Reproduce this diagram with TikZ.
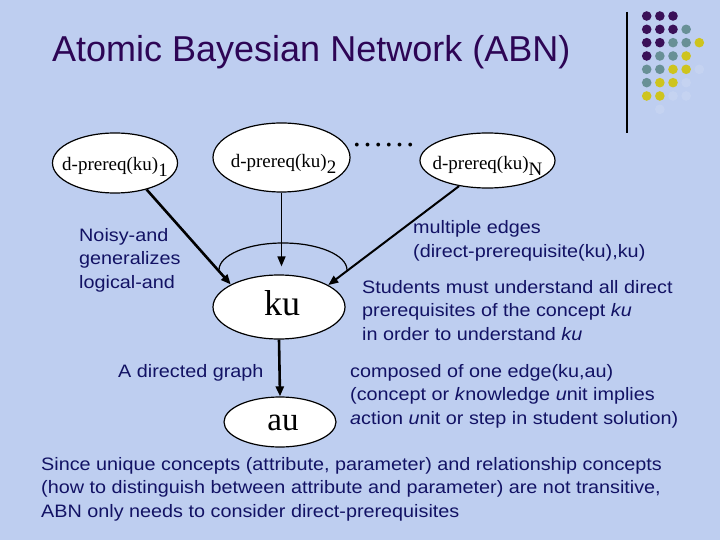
\documentclass[tikz,border=0pt]{standalone}
\usepackage{fontspec}
\setmainfont{Liberation Serif}
\setsansfont{Liberation Sans}
\newfontfamily\bodyf[FakeStretch=1.1]{Liberation Sans}
\newfontfamily\titlef{Liberation Sans}
\usetikzlibrary{shapes.geometric,arrows.meta}
\definecolor{bgblue}{RGB}{190,206,240}
\definecolor{txtnavy}{RGB}{18,18,100}
\definecolor{titlepurple}{RGB}{45,5,85}
\definecolor{dotP}{RGB}{58,16,88}
\definecolor{dotG}{RGB}{104,144,150}
\definecolor{dotY}{RGB}{206,196,30}
\newcommand\sbs[1]{\raisebox{-6pt}{#1}}
\begin{document}
\begin{tikzpicture}[x=1pt,y=-1pt,
  ell/.style={ellipse, draw=black, line width=1.2pt, fill=white, inner sep=0pt},
  lbl/.style={font=\fontsize{19}{22}\selectfont, inner sep=0pt, anchor=base},
  body/.style={font=\bodyf\fontsize{18}{23.5}\selectfont, text=txtnavy, align=left, inner sep=0pt, anchor=base west},
  arr/.style={-{Triangle[length=10pt,width=8pt]}, draw=black},
  dot/.style={circle, inner sep=0pt, minimum size=9.6pt}
]
\fill[bgblue] (0,0) rectangle (720,540);
\useasboundingbox (0,0) rectangle (720,540);

% title
\node[font=\titlef\fontsize{36}{40}\selectfont, text=titlepurple, inner sep=0pt, anchor=base west] (title) at (52,62) {Atomic Bayesian Network (ABN)};

% decoration
\coordinate (vt) at (627,12);
\coordinate (vb) at (627,133);
\draw[line width=1.3pt] (vt) -- (vb);
\foreach \r/\cols in {0/{P,P,P},1/{P,P,P,G},2/{P,P,G,G,Y},3/{P,G,G,Y},4/{G,G,Y,Y},5/{G,Y,Y},6/{Y,Y}}{
  \foreach \c [count=\i from 0] in \cols {
    \fill[dot\c] ({646.7+13.15*\i},{16+13.33*\r}) circle (4.8);
  }
}
\foreach \i/\r in {4/4,3/5,2/6,3/6,1/7}{
  \fill[white,opacity=0.12] ({646.7+13.15*\i},{16+13.33*\r}) circle (4.8);
}

% ellipses
\node[ell, minimum width=125pt, minimum height=60pt] (p1) at (115,163) {};
\node[ell, minimum width=137pt, minimum height=69pt] (p2) at (281.5,157.5) {};
\node[ell, minimum width=135pt, minimum height=55pt] (pN) at (487.5,160.5) {};
\node[ell, minimum width=132pt, minimum height=64pt] (ku) at (279,307) {};
\node[ell, minimum width=112pt, minimum height=50pt] (au) at (280,422) {};

\node[lbl] (p1t) at ([yshift=-7.5pt]p1.center) {d-prereq(ku)\sbs{1}};
\node[lbl] (p2t) at ([yshift=-10pt,xshift=2pt]p2.center) {d-prereq(ku)\sbs{2}};
\node[lbl] (pNt) at ([yshift=-9pt]pN.center) {d-prereq(ku)\sbs{N}};
\node[lbl, font=\fontsize{36}{40}\selectfont] (kut) at ([yshift=-8pt,xshift=3pt]ku.center) {ku};
\node[lbl, font=\fontsize{33}{36}\selectfont] (aut) at ([yshift=-8.7pt,xshift=3pt]au.center) {au};
\node[lbl, font=\fontsize{32}{36}\selectfont] (dots) at (383.5,147) {……};

% connectors
\draw[line width=1.2pt] (219,270) arc[start angle=180,end angle=360,x radius=64,y radius=27];
\draw[arr, line width=2.6pt] (p1.-40) -- (ku.155);
\draw[arr, line width=1.6pt, shorten >=8pt] (p2.south) -- (p2.south |- ku.north);
\draw[arr, line width=2pt] (pN.222) -- (ku.24);
\draw[arr, line width=2.6pt] (ku.south) -- (au.north);

% texts (anchor = baseline of the last line)
\node[body] (noisy) at (79,288) {Noisy-and\\generalizes\\logical-and};
\node[body] (mult) at (413,257) {multiple edges\\(direct-prerequisite(ku),ku)};
\node[body] (stud) at (362,340) {Students must understand all direct\\prerequisites of the concept \textit{ku}\\in order to understand \textit{ku}};
\node[body] (dirg) at (118,377) {A directed graph};
\node[body] (comp) at (350,424) {composed of one edge(ku,au)\\(concept or \textit{k}nowledge \textit{u}nit implies\\\textit{a}ction \textit{u}nit or step in student solution)};
\node[body] (since) at (41,517) {Since unique concepts (attribute, parameter) and relationship concepts\\(how to distinguish between attribute and parameter) are not transitive,\\ABN only needs to consider direct-prerequisites};
\end{tikzpicture}
\end{document}
